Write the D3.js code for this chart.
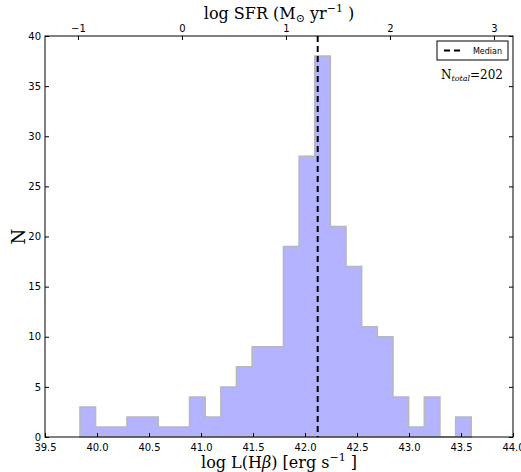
<!DOCTYPE html>
<html>
<head>
<meta charset="utf-8">
<script src="https://cdn.jsdelivr.net/npm/d3@7"></script>
<style>
  body { margin: 0; background: #fff; }
  text { fill: #000; }
</style>
</head>
<body>
<div id="chart"></div>
<script>
// histogram of log L(Hbeta), 25 bins
const binStart = 39.836
const binWidth = 0.1505
const counts = [3, 1, 1, 2, 2, 1, 1, 4, 2, 5, 7, 9, 9, 19, 28, 38, 21, 17, 11, 10, 4, 1, 4, 0, 2]
const medianValue = 42.122
const nTotal = 202
const xTicks = [39.5, 40.0, 40.5, 41.0, 41.5, 42.0, 42.5, 43.0, 43.5, 44.0]
const yTicks = [0, 5, 10, 15, 20, 25, 30, 35, 40]
const sfrTicks = [-1, 0, 1, 2, 3]
const sfrOffset = 40.817 // log SFR = log L(Hb) - offset

const width = 521
const height = 472
const margin = { top: 36, bottom: 35, left: 45, right: 8 }
const innerW = width - margin.left - margin.right
const innerH = height - margin.top - margin.bottom

const svg = d3.select("#chart").append("svg").attr("width", width).attr("height", height)
const g = svg.append("g").attr("transform", `translate(${margin.left},${margin.top})`)

const x = d3.scaleLinear().domain([39.5, 44.0]).range([0, innerW])
const xTop = d3.scaleLinear().domain([39.5 - sfrOffset, 44.0 - sfrOffset]).range([0, innerW])
const y = d3.scaleLinear().domain([0, 40]).range([innerH, 0])

// step outline, like histtype='stepfilled'
const pts = [[binStart, 0]]
counts.forEach((c, i) => {
  pts.push([binStart + i * binWidth, c])
  pts.push([binStart + (i + 1) * binWidth, c])
})
pts.push([binStart + counts.length * binWidth, 0])

const line = d3.line().x(d => x(d[0])).y(d => y(d[1]))
g.append("path").attr("d", line(pts) + "Z")
  .attr("fill", "#b3b3ff").attr("stroke", "#b8b8b8").attr("stroke-width", 1.5)

// median
g.append("line")
  .attr("x1", x(medianValue)).attr("x2", x(medianValue))
  .attr("y1", 0).attr("y2", innerH)
  .attr("stroke", "#000").attr("stroke-width", 2).attr("stroke-dasharray", "6,4")

// axes, ticks inside
const tickFont = "DejaVu Sans, sans-serif"
const axB = g.append("g").attr("transform", `translate(0,${innerH})`)
  .call(d3.axisBottom(x).tickValues(xTicks).tickFormat(d3.format(".1f")).tickSizeInner(-4).tickSizeOuter(0).tickPadding(7))
const axL = g.append("g")
  .call(d3.axisLeft(y).tickValues(yTicks).tickSizeInner(-4).tickSizeOuter(0).tickPadding(4))
const axT = g.append("g")
  .call(d3.axisTop(xTop).tickValues(sfrTicks).tickFormat(d => d < 0 ? "\u2212" + Math.abs(d) : d).tickSizeInner(-4).tickSizeOuter(0).tickPadding(4))
const axR = g.append("g").attr("transform", `translate(${innerW},0)`)
  .call(d3.axisRight(y).tickValues(yTicks).tickFormat("").tickSizeInner(-4).tickSizeOuter(0))

;[axB, axL, axT, axR].forEach(a => {
  a.select(".domain").remove()
  a.selectAll("line").attr("stroke", "#000")
  a.selectAll("text").attr("font-family", tickFont).attr("font-size", 10).attr("fill", "#000")
})

// frame
g.append("rect").attr("width", innerW).attr("height", innerH)
  .attr("fill", "none").attr("stroke", "#000").attr("stroke-width", 1)

// labels
const serif = "DejaVu Serif, serif"
const xl = svg.append("text").attr("x", margin.left + innerW / 2).attr("y", 468)
  .attr("text-anchor", "middle").attr("font-family", serif).attr("font-size", 16)
xl.append("tspan").text("log L(H")
xl.append("tspan").attr("font-style", "italic").text("β")
xl.append("tspan").text(") [erg s")
xl.append("tspan").attr("font-size", 11).attr("dy", -7).text("−1")
xl.append("tspan").attr("dy", 7).text(" ]")

const tl = svg.append("text").attr("x", margin.left + innerW / 2).attr("y", 19)
  .attr("text-anchor", "middle").attr("font-family", serif).attr("font-size", 16)
tl.append("tspan").text("log SFR (M")
tl.append("tspan").attr("font-size", 11).attr("dy", 3).text("⊙")
tl.append("tspan").attr("dy", -3).text(" yr")
tl.append("tspan").attr("font-size", 11).attr("dy", -7).text("−1")
tl.append("tspan").attr("dy", 7).text(" )")

svg.append("text").attr("transform", `translate(25,${margin.top + innerH / 2}) rotate(-90)`)
  .attr("text-anchor", "middle").attr("font-family", serif).attr("font-size", 18).text("N")

// legend
const lg = svg.append("g").attr("transform", "translate(437,41)")
lg.append("rect").attr("width", 71).attr("height", 19).attr("fill", "#fff").attr("stroke", "#000").attr("stroke-width", 1)
lg.append("line").attr("x1", 7).attr("x2", 24).attr("y1", 9.5).attr("y2", 9.5)
  .attr("stroke", "#000").attr("stroke-width", 2).attr("stroke-dasharray", "6,4")
lg.append("text").attr("x", 65).attr("y", 13).attr("text-anchor", "end")
  .attr("font-family", tickFont).attr("font-size", 8).text("Median")

// N total
const nt = svg.append("text").attr("x", 503).attr("y", 79).attr("text-anchor", "end")
  .attr("font-family", serif).attr("font-size", 12)
nt.append("tspan").text("N")
nt.append("tspan").attr("font-size", 8).attr("font-style", "italic").attr("dy", 2).text("total")
nt.append("tspan").attr("dy", -2).text("=" + nTotal)
</script>
</body>
</html>
